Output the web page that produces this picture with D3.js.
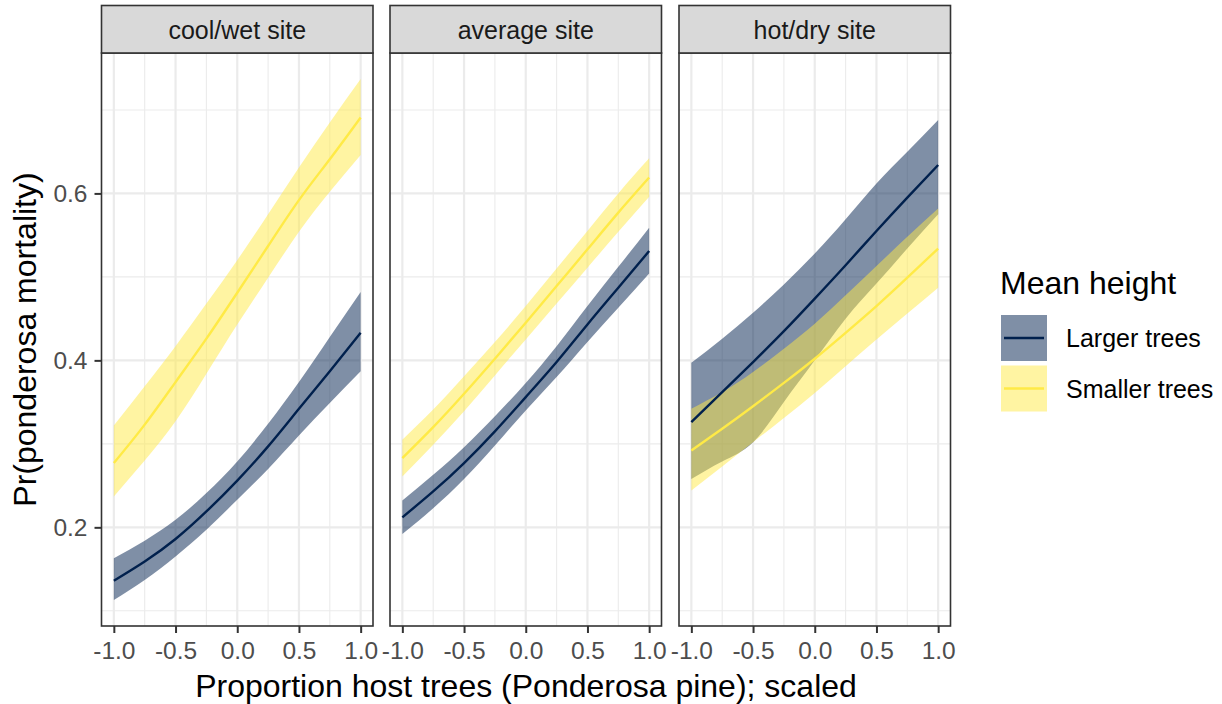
<!DOCTYPE html>
<html>
<head>
<meta charset="utf-8">
<script src="https://cdn.jsdelivr.net/npm/d3@7"></script>
<style>
  body { margin: 0; background: #fff; }
  text { font-family: 'Liberation Sans', Arial, sans-serif; }
</style>
</head>
<body>
<div id="chart"></div>
<script>
// facet labels and groups
var sites = ['cool/wet site', 'average site', 'hot/dry site'];
var groups = ['Larger trees', 'Smaller trees'];
var xs = [-1, -0.75, -0.5, -0.25, 0, 0.25, 0.5, 0.75, 1];

// one row per site, values at xs
var largeFit = [[0.136, 0.159, 0.186, 0.219, 0.256, 0.297, 0.342, 0.387, 0.433],
                [0.212, 0.243, 0.277, 0.315, 0.356, 0.398, 0.443, 0.487, 0.531],
                [0.326, 0.362, 0.398, 0.435, 0.474, 0.514, 0.555, 0.595, 0.634]];
var largeLo  = [[0.113, 0.137, 0.165, 0.197, 0.233, 0.270, 0.310, 0.349, 0.387],
                [0.192, 0.223, 0.258, 0.298, 0.340, 0.380, 0.422, 0.463, 0.504],
                [0.258, 0.279, 0.302, 0.350, 0.400, 0.450, 0.492, 0.534, 0.575]];
var largeHi  = [[0.163, 0.184, 0.209, 0.241, 0.279, 0.324, 0.374, 0.428, 0.482],
                [0.232, 0.263, 0.296, 0.333, 0.373, 0.417, 0.465, 0.512, 0.559],
                [0.397, 0.426, 0.457, 0.491, 0.528, 0.569, 0.612, 0.650, 0.688]];
var smallFit = [[0.277, 0.323, 0.374, 0.426, 0.481, 0.537, 0.592, 0.641, 0.691],
                [0.283, 0.320, 0.360, 0.402, 0.445, 0.489, 0.533, 0.577, 0.619],
                [0.292, 0.318, 0.345, 0.373, 0.402, 0.433, 0.465, 0.499, 0.534]];
var smallLo  = [[0.237, 0.280, 0.327, 0.384, 0.443, 0.499, 0.554, 0.602, 0.646],
                [0.261, 0.299, 0.339, 0.382, 0.425, 0.468, 0.511, 0.554, 0.596],
                [0.244, 0.273, 0.302, 0.331, 0.361, 0.393, 0.425, 0.456, 0.487]];
var smallHi  = [[0.322, 0.369, 0.417, 0.468, 0.520, 0.575, 0.631, 0.685, 0.737],
                [0.305, 0.341, 0.381, 0.422, 0.465, 0.510, 0.555, 0.600, 0.642],
                [0.342, 0.362, 0.386, 0.414, 0.444, 0.478, 0.513, 0.548, 0.582]];

var xTicks = [-1, -0.5, 0, 0.5, 1];
var xTickLabels = ['-1.0', '-0.5', '0.0', '0.5', '1.0'];
var xMinor = [-0.75, -0.25, 0.25, 0.75];
var yTicks = [0.2, 0.4, 0.6];
var yMinor = [0.1, 0.3, 0.5, 0.7];

var lineCol = {'Larger trees': '#00204D', 'Smaller trees': '#FFEA46'};

var W = 1222, H = 704;
var panelW = 271.5, panelTop = 53, panelBot = 626, stripTop = 5.5;
var panelLeft = [101.5, 390, 679];

var svg = d3.select('#chart').append('svg')
    .attr('width', W)
    .attr('height', H);

// shared y scale, ggplot style 5% padding
var allY = d3.merge([].concat(largeLo, largeHi, smallLo, smallHi));
var yMin = d3.min(allY), yMax = d3.max(allY), pad = (yMax - yMin) * 0.05;
var y = d3.scaleLinear()
    .domain([yMin - pad, yMax + pad])
    .range([panelBot, panelTop]);

function rows(i, fit, lo, hi) {
    return xs.map(function(x, j) {
        return {x: x, fit: fit[i][j], lo: lo[i][j], hi: hi[i][j]};
    });
}

sites.forEach(function(site, i) {
    var x = d3.scaleLinear()
        .domain([-1.1, 1.1])
        .range([panelLeft[i], panelLeft[i] + panelW]);

    var g = svg.append('g');

    // minor then major grid
    g.selectAll('.vminor').data(xMinor).enter().append('line')
        .attr('x1', function(d) { return x(d); })
        .attr('x2', function(d) { return x(d); })
        .attr('y1', panelTop).attr('y2', panelBot)
        .style('stroke', '#EBEBEB').style('stroke-width', 1.1);
    g.selectAll('.hminor').data(yMinor).enter().append('line')
        .attr('x1', panelLeft[i]).attr('x2', panelLeft[i] + panelW)
        .attr('y1', function(d) { return y(d); })
        .attr('y2', function(d) { return y(d); })
        .style('stroke', '#EBEBEB').style('stroke-width', 1.1);
    g.selectAll('.vmajor').data(xTicks).enter().append('line')
        .attr('x1', function(d) { return x(d); })
        .attr('x2', function(d) { return x(d); })
        .attr('y1', panelTop).attr('y2', panelBot)
        .style('stroke', '#EBEBEB').style('stroke-width', 2.2);
    g.selectAll('.hmajor').data(yTicks).enter().append('line')
        .attr('x1', panelLeft[i]).attr('x2', panelLeft[i] + panelW)
        .attr('y1', function(d) { return y(d); })
        .attr('y2', function(d) { return y(d); })
        .style('stroke', '#EBEBEB').style('stroke-width', 2.2);

    var series = [
        {name: 'Larger trees', data: rows(i, largeFit, largeLo, largeHi)},
        {name: 'Smaller trees', data: rows(i, smallFit, smallLo, smallHi)}
    ];

    var area = d3.area()
        .curve(d3.curveNatural)
        .x(function(d) { return x(d.x); })
        .y0(function(d) { return y(d.lo); })
        .y1(function(d) { return y(d.hi); });
    var line = d3.line()
        .curve(d3.curveNatural)
        .x(function(d) { return x(d.x); })
        .y(function(d) { return y(d.fit); });

    g.selectAll('.band').data(series).enter().append('path')
        .attr('d', function(d) { return area(d.data); })
        .style('fill', function(d) { return lineCol[d.name]; })
        .style('fill-opacity', 0.5);
    g.selectAll('.fit').data(series).enter().append('path')
        .attr('d', function(d) { return line(d.data); })
        .style('fill', 'none')
        .style('stroke', function(d) { return lineCol[d.name]; })
        .style('stroke-width', 2.4);

    // panel border
    g.append('rect')
        .attr('x', panelLeft[i]).attr('y', panelTop)
        .attr('width', panelW).attr('height', panelBot - panelTop)
        .style('fill', 'none').style('stroke', '#333333').style('stroke-width', 1.6);

    // strip
    g.append('rect')
        .attr('x', panelLeft[i]).attr('y', stripTop)
        .attr('width', panelW).attr('height', panelTop - stripTop)
        .style('fill', '#D9D9D9').style('stroke', '#333333').style('stroke-width', 1.6);
    g.append('text')
        .attr('x', panelLeft[i] + panelW / 2)
        .attr('y', 39)
        .attr('text-anchor', 'middle')
        .style('font-size', '25px')
        .style('fill', '#1A1A1A')
        .text(site);

    var xAxis = g.append('g')
        .attr('transform', 'translate(0,' + panelBot + ')')
        .call(d3.axisBottom(x)
            .tickValues(xTicks)
            .tickFormat(function(d, k) { return xTickLabels[k]; })
            .tickSizeInner(7).tickSizeOuter(0).tickPadding(9));
    xAxis.select('.domain').remove();

    if (i === 0) {
        var yAxis = g.append('g')
            .attr('transform', 'translate(' + panelLeft[i] + ',0)')
            .call(d3.axisLeft(y)
                .tickValues(yTicks)
                .tickFormat(d3.format('.1f'))
                .tickSizeInner(7).tickSizeOuter(0).tickPadding(7));
        yAxis.select('.domain').remove();
    }
});

svg.selectAll('.tick line')
    .style('stroke', '#333333')
    .style('stroke-width', 2);
svg.selectAll('.tick text')
    .style('font-family', "'Liberation Sans', Arial, sans-serif")
    .style('font-size', '24.5px')
    .style('fill', '#4D4D4D');

// axis titles
svg.append('text')
    .attr('x', (panelLeft[0] + panelLeft[2] + panelW) / 2)
    .attr('y', 697)
    .attr('text-anchor', 'middle')
    .style('font-size', '32px')
    .style('fill', '#000')
    .text('Proportion host trees (Ponderosa pine); scaled');

svg.append('text')
    .attr('transform', 'translate(36,' + ((panelTop + panelBot) / 2) + ') rotate(-90)')
    .attr('text-anchor', 'middle')
    .style('font-size', '32px')
    .style('fill', '#000')
    .text('Pr(ponderosa mortality)');

// legend
var legend = svg.append('g').attr('transform', 'translate(1001,0)');
legend.append('text')
    .attr('x', -1).attr('y', 294)
    .style('font-size', '32px')
    .text('Mean height');

var key = legend.selectAll('.key').data(groups).enter().append('g')
    .attr('transform', function(d, k) { return 'translate(0,' + (315 + k * 50.5) + ')'; });
key.append('rect')
    .attr('width', 46).attr('height', 46)
    .style('fill', function(d) { return lineCol[d]; })
    .style('fill-opacity', 0.5);
key.append('line')
    .attr('x1', 3).attr('x2', 43)
    .attr('y1', 23).attr('y2', 23)
    .style('stroke', function(d) { return lineCol[d]; })
    .style('stroke-width', 2.4);
key.append('text')
    .attr('x', 65).attr('y', 32)
    .style('font-size', '25px')
    .text(function(d) { return d; });
</script>
</body>
</html>
